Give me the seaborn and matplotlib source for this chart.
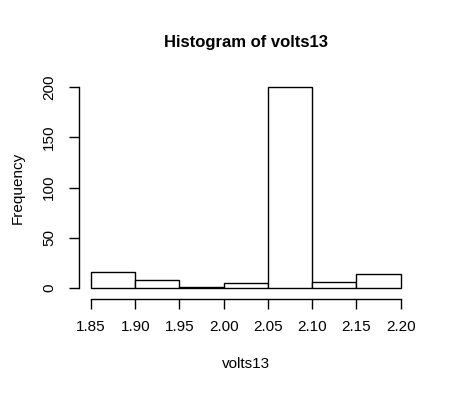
import numpy as np
import matplotlib
matplotlib.use("Agg")
import matplotlib.pyplot as plt
import seaborn as sns

# histogram bins and counts
bin_edges = [1.85, 1.90, 1.95, 2.00, 2.05, 2.10, 2.15, 2.20]
counts = [16, 8, 1, 5, 200, 6, 14]
x_ticks = [1.85, 1.90, 1.95, 2.00, 2.05, 2.10, 2.15, 2.20]
y_ticks = [0, 50, 100, 150, 200]

sns.set_style("white")
plt.rcParams['font.family'] = ['Liberation Sans', 'DejaVu Sans']
plt.rcParams['text.color'] = 'black'
plt.rcParams['axes.labelcolor'] = 'black'
plt.rcParams['xtick.color'] = 'black'
plt.rcParams['ytick.color'] = 'black'

mids = [(bin_edges[i] + bin_edges[i + 1]) / 2 for i in range(len(counts))]

fig = plt.figure(figsize=(4.54, 3.95), dpi=100)
ax = fig.add_axes([0.173, 0.2506, 0.737, 0.549])

sns.histplot(x=mids, weights=counts, bins=bin_edges, ax=ax,
             color="white", edgecolor="black", linewidth=1, alpha=1)

ax.set_xlim(1.836, 2.214)
ax.set_ylim(-8, 208)
ax.set_xticks(x_ticks)
ax.set_xticklabels(["%.2f" % t for t in x_ticks])
ax.set_yticks(y_ticks)
ax.set_yticklabels([str(t) for t in y_ticks])

for s in ["top", "right"]:
    ax.spines[s].set_visible(False)
ax.spines["left"].set_bounds(0, 200)
ax.spines["bottom"].set_bounds(1.85, 2.20)
ax.spines["bottom"].set_position(("outward", 2))
for s in ["left", "bottom"]:
    ax.spines[s].set_color("black")
    ax.spines[s].set_linewidth(1)
ax.tick_params(axis="both", direction="out", length=7, width=1, color="black",
               labelcolor="black", labelsize=11, left=True, bottom=True)
ax.tick_params(axis="x", pad=8)
ax.tick_params(axis="y", labelrotation=90, pad=9)
for lab in ax.get_yticklabels():
    lab.set_verticalalignment("center")

ax.set_xlabel("volts13", fontsize=11, labelpad=17)
ax.set_ylabel("Frequency", fontsize=11, labelpad=13)
ax.set_title("Histogram of volts13", fontsize=12, fontweight="bold", pad=23)

fig.savefig("out.png", dpi=100)
